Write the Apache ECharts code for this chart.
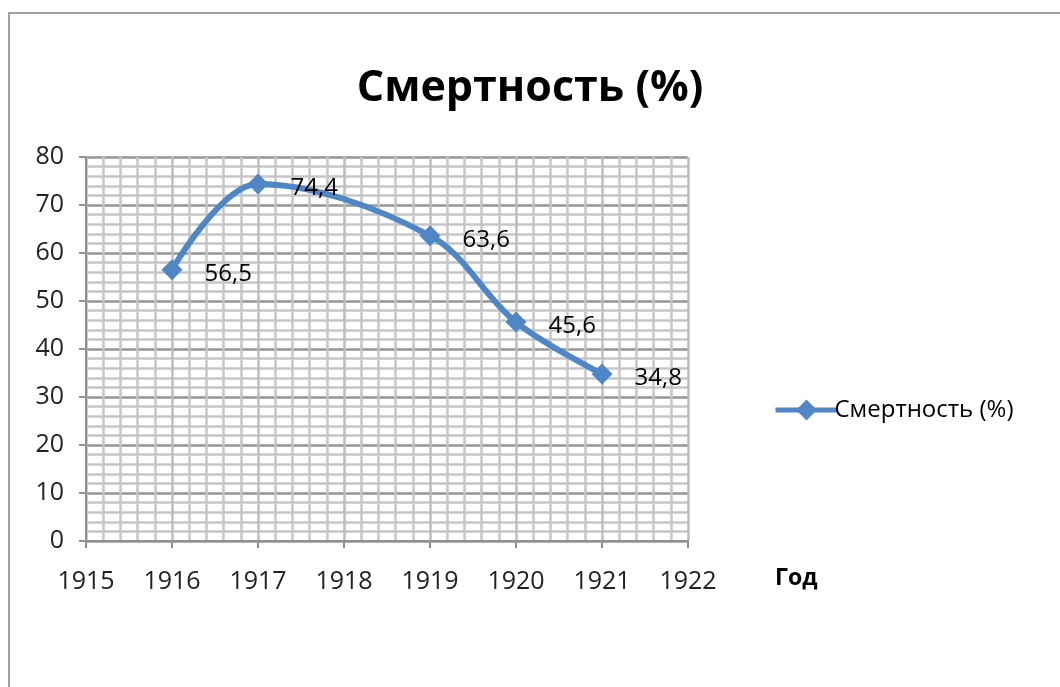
<!DOCTYPE html>
<html>
<head>
<meta charset="utf-8">
<script src="https://cdn.jsdelivr.net/npm/echarts@6/dist/echarts.min.js"></script>
<style>
  html, body { margin: 0; padding: 0; background: #fff; }
  #chart { width: 1060px; height: 687px; }
</style>
</head>
<body>
<div id="chart"></div>
<script>
const years = [1916, 1917, 1919, 1920, 1921]
const mortality = [56.5, 74.4, 63.6, 45.6, 34.8]
const seriesName = "Смертность (%)"
const xAxisName = "Год"

const myChart = echarts.init(document.getElementById("chart"))

const font = "'Open Sans', 'Noto Sans', sans-serif"
const blue = "#4f86c6"

const option = {
  backgroundColor: "#fff",
  textStyle: { fontFamily: font },
  graphic: [
    {
      type: "rect",
      shape: { x: 9, y: 13, width: 1100, height: 700 },
      style: { fill: "none", stroke: "#a0a0a0", lineWidth: 2 },
      silent: true,
    },
  ],
  title: {
    text: seriesName,
    left: "center",
    top: 62,
    textStyle: { fontFamily: font, fontSize: 43, fontWeight: "bold", color: "#000" },
  },
  legend: {
    data: [seriesName],
    left: 768,
    top: 393,
    orient: "vertical",
    itemWidth: 62,
    itemHeight: 26,
    itemGap: 0,
    lineStyle: { width: 5 },
    textStyle: { fontFamily: font, fontSize: 24, color: "#000", padding: [0, 0, 0, -8] },
  },
  grid: { left: 86, right: 372, top: 157, bottom: 146 },
  xAxis: {
    type: "value",
    min: 1915,
    max: 1922,
    interval: 1,
    name: xAxisName,
    nameLocation: "end",
    nameGap: 0,
    nameTextStyle: {
      fontFamily: font, fontSize: 23, fontWeight: "bold", color: "#000",
      align: "left", verticalAlign: "top",
      padding: [26, 0, 0, 87],
    },
    axisLine: { show: true, lineStyle: { color: "#909090", width: 2 } },
    axisTick: { show: true, length: 7, lineStyle: { color: "#909090", width: 2 } },
    axisLabel: {
      fontFamily: font, fontSize: 25, color: "#222", margin: 28,
      formatter: (v) => String(v),
    },
    splitLine: { show: true, lineStyle: { color: "#bdbdbd", width: 2.5 } },
    minorTick: { show: false, splitNumber: 5 },
    minorSplitLine: { show: true, lineStyle: { color: "#c6c6c6", width: 2.5 } },
  },
  yAxis: {
    type: "value",
    min: 0,
    max: 80,
    interval: 10,
    axisLine: { show: true, lineStyle: { color: "#909090", width: 2 } },
    axisTick: { show: true, length: 7, lineStyle: { color: "#909090", width: 2 } },
    axisLabel: { fontFamily: font, fontSize: 25, color: "#222", margin: 22 },
    splitLine: { show: true, lineStyle: { color: "#959595", width: 2.5 } },
    minorTick: { show: false, splitNumber: 5 },
    minorSplitLine: { show: true, lineStyle: { color: "#c6c6c6", width: 2.5 } },
  },
  series: [
    {
      name: seriesName,
      type: "line",
      data: years.map((y, i) => [y, mortality[i]]),
      smooth: 0.35,
      symbol: "diamond",
      symbolSize: 21,
      lineStyle: { color: blue, width: 6 },
      itemStyle: { color: blue },
      label: {
        show: true,
        position: "right",
        distance: 22,
        offset: [0, 4],
        fontFamily: font,
        fontSize: 24,
        color: "#000",
        formatter: (p) => String(p.value[1]).replace(".", ","),
      },
    },
  ],
}

option && myChart.setOption(option)
</script>
</body>
</html>
